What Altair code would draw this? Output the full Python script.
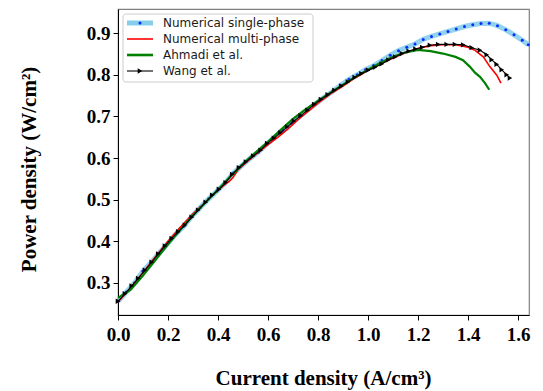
import altair as alt
import pandas as pd

# ---------------- data ----------------
single_x = [0.000, 0.033, 0.066, 0.099, 0.132, 0.165, 0.198, 0.231, 0.264, 0.297,
            0.330, 0.363, 0.396, 0.429, 0.462, 0.495, 0.528, 0.561, 0.594, 0.627,
            0.660, 0.693, 0.726, 0.759, 0.792, 0.825, 0.858, 0.891, 0.924, 0.957,
            0.990, 1.023, 1.056, 1.089, 1.122, 1.155, 1.188, 1.221, 1.254, 1.287,
            1.320, 1.353, 1.386, 1.419, 1.452, 1.485, 1.518, 1.551, 1.584, 1.617, 1.641]
single_y = [0.256, 0.278, 0.300, 0.328, 0.349, 0.372, 0.394, 0.417, 0.437, 0.461,
            0.482, 0.502, 0.521, 0.540, 0.564, 0.582, 0.599, 0.614, 0.633, 0.650,
            0.666, 0.683, 0.700, 0.716, 0.731, 0.746, 0.760, 0.775, 0.789, 0.800,
            0.812, 0.822, 0.834, 0.847, 0.858, 0.866, 0.874, 0.885, 0.892, 0.898,
            0.904, 0.910, 0.916, 0.920, 0.923, 0.924, 0.918, 0.908, 0.896, 0.883, 0.872]

multi_x = [0.000, 0.050, 0.100, 0.150, 0.200, 0.250, 0.300, 0.350, 0.400, 0.430,
           0.445, 0.460, 0.480, 0.520, 0.560, 0.600, 0.640, 0.680, 0.720, 0.760,
           0.800, 0.850, 0.900, 0.950, 1.000, 1.050, 1.100, 1.150, 1.200, 1.250,
           1.300, 1.350, 1.400, 1.430, 1.461, 1.488, 1.515, 1.532]
multi_y = [0.254, 0.288, 0.325, 0.363, 0.400, 0.434, 0.466, 0.494, 0.522, 0.538,
           0.544, 0.553, 0.572, 0.593, 0.613, 0.632, 0.650, 0.670, 0.692, 0.712,
           0.732, 0.754, 0.773, 0.793, 0.811, 0.826, 0.840, 0.853, 0.863, 0.870,
           0.872, 0.872, 0.866, 0.858, 0.843, 0.819, 0.799, 0.780]

ahmadi_x = [0.000, 0.050, 0.100, 0.150, 0.200, 0.250, 0.300, 0.350, 0.400, 0.450,
            0.500, 0.550, 0.600, 0.650, 0.700, 0.750, 0.800, 0.850, 0.900, 0.950,
            1.000, 1.050, 1.100, 1.150, 1.200, 1.250, 1.300, 1.350, 1.380, 1.408,
            1.428, 1.448, 1.468, 1.485]
ahmadi_y = [0.264, 0.283, 0.318, 0.355, 0.393, 0.428, 0.462, 0.494, 0.524, 0.556,
            0.586, 0.613, 0.639, 0.667, 0.694, 0.717, 0.737, 0.757, 0.776, 0.795,
            0.812, 0.829, 0.843, 0.854, 0.860, 0.857, 0.851, 0.843, 0.835, 0.819,
            0.805, 0.795, 0.780, 0.764]

wang_x = [0.000, 0.028, 0.055, 0.081, 0.108, 0.135, 0.161, 0.188, 0.215, 0.241,
          0.268, 0.295, 0.321, 0.351, 0.377, 0.404, 0.431, 0.457, 0.484, 0.512,
          0.541, 0.571, 0.597, 0.624, 0.650, 0.677, 0.704, 0.731, 0.758, 0.785,
          0.812, 0.839, 0.866, 0.893, 0.920, 0.947, 0.974, 1.001, 1.028, 1.055,
          1.082, 1.109, 1.136, 1.163, 1.190, 1.217, 1.248, 1.281, 1.315, 1.348,
          1.381, 1.415, 1.448, 1.475, 1.495, 1.515, 1.535, 1.555, 1.568]
wang_y = [0.256, 0.274, 0.293, 0.311, 0.331, 0.350, 0.370, 0.389, 0.407, 0.423,
          0.439, 0.458, 0.475, 0.494, 0.511, 0.525, 0.541, 0.561, 0.577, 0.591,
          0.605, 0.619, 0.635, 0.648, 0.661, 0.675, 0.689, 0.702, 0.715, 0.729,
          0.741, 0.752, 0.763, 0.773, 0.783, 0.794, 0.803, 0.811, 0.818, 0.826,
          0.836, 0.843, 0.851, 0.857, 0.862, 0.866, 0.871, 0.873, 0.873, 0.873,
          0.872, 0.865, 0.859, 0.848, 0.836, 0.825, 0.812, 0.800, 0.792]

series_names = ["Numerical single-phase", "Numerical multi-phase", "Ahmadi et al.", "Wang et al."]
x_ticks = [0.0, 0.2, 0.4, 0.6, 0.8, 1.0, 1.2, 1.4, 1.6]
y_ticks = [0.3, 0.4, 0.5, 0.6, 0.7, 0.8, 0.9]

# ---------------- chart ----------------
X_DOM = [0.0, 1.644]
Y_DOM = [0.223, 0.958]
SERIF = "Liberation Serif"

xs = alt.Scale(domain=X_DOM, nice=False, zero=False)
ys = alt.Scale(domain=Y_DOM, nice=False, zero=False)

xenc = alt.X("x:Q", scale=xs,
             axis=alt.Axis(values=x_ticks, format=".1f", title="Current density (A/cm³)",
                           labelFlush=False, titleX=205, titleY=63,
                           titleBaseline="middle", titleAlign="center"))
yenc = alt.Y("y:Q", scale=ys,
             axis=alt.Axis(values=y_ticks, format=".1f", title="Power density (W/cm²)",
                           labelFlush=False, titleX=-89, titleY=160, titleAngle=270,
                           titleBaseline="middle", titleAlign="center"))

df_s = pd.DataFrame({"x": single_x, "y": single_y})
df_m = pd.DataFrame({"x": multi_x, "y": multi_y})
df_a = pd.DataFrame({"x": ahmadi_x, "y": ahmadi_y})
df_w = pd.DataFrame({"x": wang_x, "y": wang_y})

single_line = alt.Chart(df_s).mark_line(color="#87CEEB", strokeWidth=5, opacity=0.9).encode(x=xenc, y=yenc)
single_pts = alt.Chart(df_s).mark_circle(color="#0a2aff", size=9, opacity=1).encode(x=xenc, y=yenc)
multi_line = alt.Chart(df_m).mark_line(color="#ff0000", strokeWidth=1.6).encode(x=xenc, y=yenc)
ahmadi_line = alt.Chart(df_a).mark_line(color="#008000", strokeWidth=2.2).encode(x=xenc, y=yenc)
wang_line = alt.Chart(df_w).mark_line(color="#000000", strokeWidth=1.1).encode(x=xenc, y=yenc)
wang_pts = alt.Chart(df_w).mark_point(shape="triangle-right", filled=True, color="#000000",
                                      size=28, opacity=1).encode(x=xenc, y=yenc)

# ---------------- legend (manual, pixel positions in plot area) ----------------
one = pd.DataFrame({"k": [0]})
legend_box = alt.Chart(one).mark_rect(fill="white", fillOpacity=0.85, stroke="#cccccc",
                                      strokeWidth=1, cornerRadius=3).encode(
    x=alt.value(5), x2=alt.value(195), y=alt.value(5), y2=alt.value(73))

rows_y = [14, 30, 46, 62]
styles = [("#87CEEB", 5), ("#ff0000", 1.6), ("#008000", 2.6), ("#000000", 1.1)]
legend_layers = [legend_box]
for name, yy, (col, sw) in zip(series_names, rows_y, styles):
    legend_layers.append(alt.Chart(one).mark_rule(color=col, strokeWidth=sw).encode(
        x=alt.value(9), x2=alt.value(35), y=alt.value(yy)))
    legend_layers.append(alt.Chart(pd.DataFrame({"label": [name]})).mark_text(
        align="left", baseline="middle", font="DejaVu Sans", fontSize=12, color="#1a1a1a").encode(
        x=alt.value(45), y=alt.value(yy), text="label:N"))
legend_layers.append(alt.Chart(one).mark_circle(color="#0a2aff", size=9, opacity=1).encode(
    x=alt.value(22), y=alt.value(rows_y[0])))
legend_layers.append(alt.Chart(one).mark_point(shape="triangle-right", filled=True, color="#000000",
                                               size=28, opacity=1).encode(
    x=alt.value(22), y=alt.value(rows_y[3])))

chart = alt.layer(single_line, single_pts, multi_line, ahmadi_line, wang_line, wang_pts,
                  *legend_layers).properties(
    width=411, height=306,
    autosize=alt.AutoSizeParams(type="none"),
    padding={"left": 110, "top": 1, "right": 6, "bottom": 76},
).configure_view(stroke="#808080", strokeWidth=1.2).configure_axis(
    grid=False, domainColor="#000000", domainWidth=1, tickColor="#000000", tickSize=5,
    labelFont=SERIF, labelFontWeight="bold", labelFontSize=19, labelColor="#000000",
    titleFont=SERIF, titleFontWeight="bold", titleFontSize=21, titleColor="#000000",
).configure_axisX(labelPadding=5).configure_axisY(labelPadding=3)

chart.save("out.html", embed_options={"renderer": "svg", "actions": False})
